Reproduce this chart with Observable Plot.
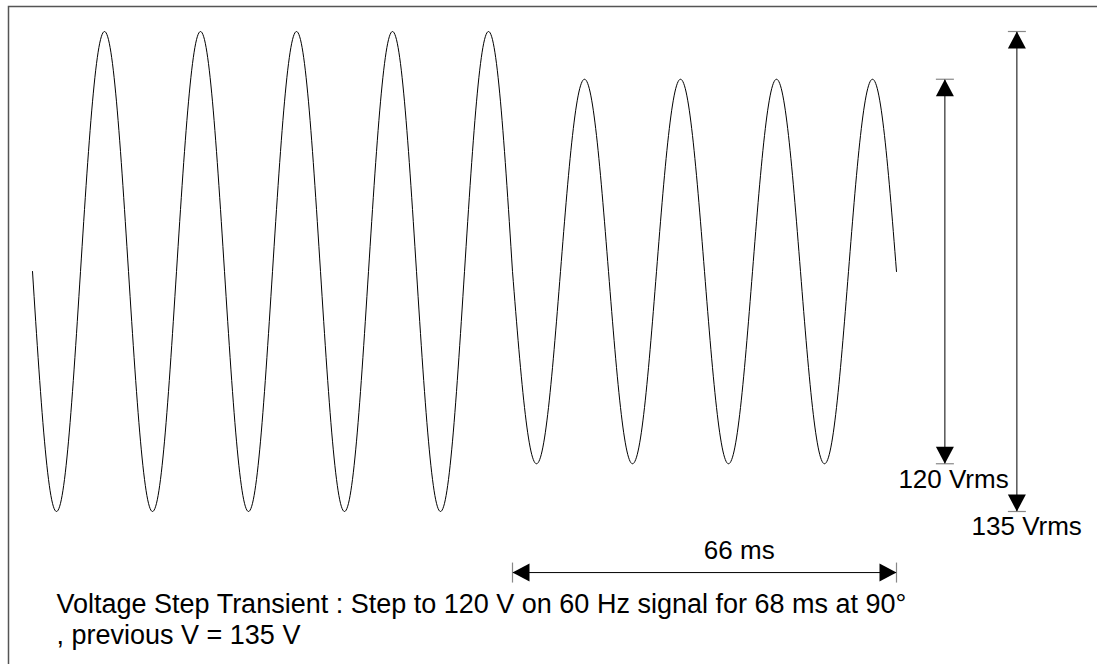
<!DOCTYPE html>
<html><head><meta charset="utf-8">
<script src="https://cdn.jsdelivr.net/npm/d3@7"></script>
<script src="https://cdn.jsdelivr.net/npm/@observablehq/plot@0.6"></script>
<style>html,body{margin:0;padding:0;overflow:hidden;background:#fff}</style>
</head><body><div id="chart"></div>
<script>
// ---- data ----
const signalFrequencyHz = 60;
// extreme voltage (V) of each successive half-cycle of the trace
const halfCycleExtremes = [-191, 191, -191, 191, -191, 191, -191, 191, -191, 191,
                           -153, 153, -153, 153, -153, 153, -153, 153];
const amplitudeLabels = ["120 Vrms", "135 Vrms"];
const amplitudeArrowTimes = [158.4, 170.9];   // ms
const amplitudePeaks = [153, 191];            // V
const amplitudeLabelTimes = [159.9, 172.6];   // ms
const amplitudeLabelVolts = [-172, -210];     // V (baseline)
const durationLabel = "66 ms";
const durationArrowVolt = -239.6;
const durationLabelTime = 122.7;
const durationLabelVolt = -229;
const captionLines = ["Voltage Step Transient : Step to 120 V on 60 Hz signal for 68 ms at 90°", ", previous V = 135 V"];

// ---- derived tables ----
const halfPeriod = 1000 / signalFrequencyHz / 2;
const stepTime = 10 * halfPeriod;
const endTime = halfCycleExtremes.length * halfPeriod;
const wave = [];
halfCycleExtremes.forEach((e, i) => {
  const n = 60;
  for (let k = (i === 0 ? 0 : 1); k <= n; k++) {
    wave.push({t: (i + k / n) * halfPeriod, v: e * Math.sin(Math.PI * k / n)});
  }
});

const arrows = [
  ...amplitudeLabels.map((_, i) => ({x1: amplitudeArrowTimes[i], x2: amplitudeArrowTimes[i], y1: amplitudePeaks[i], y2: -amplitudePeaks[i]})),
  {x1: stepTime, x2: endTime, y1: durationArrowVolt, y2: durationArrowVolt}
];
const ends = arrows.flatMap(a => {
  const vertical = a.x1 === a.x2;
  return [
    {x: a.x1, y: a.y1, vertical, rot: vertical ? (a.y1 > a.y2 ? 0 : 180) : (a.x1 < a.x2 ? -90 : 90)},
    {x: a.x2, y: a.y2, vertical, rot: vertical ? (a.y2 > a.y1 ? 0 : 180) : (a.x2 < a.x1 ? -90 : 90)}
  ];
});
const labels = [
  ...amplitudeLabels.map((s, i) => ({x: amplitudeLabelTimes[i], y: amplitudeLabelVolts[i], text: s})),
  {x: durationLabelTime, y: durationLabelVolt, text: durationLabel}
];

// custom symbols
const head = {draw(ctx) { ctx.moveTo(0, 0); ctx.lineTo(9, 17); ctx.lineTo(-9, 17); ctx.closePath(); }};
const tick = (len) => ({draw(ctx) { ctx.moveTo(-len / 2, 0); ctx.lineTo(len / 2, 0); }});

const font = "'Liberation Sans', Arial, Helvetica, sans-serif";
const chart = Plot.plot({
  width: 1097,
  height: 664,
  marginLeft: 8, marginTop: 6, marginRight: -3, marginBottom: -3,
  style: {fontFamily: font, fontSize: "26px", background: "white", color: "black"},
  x: {domain: [0, endTime], range: [32, 896], axis: null},
  y: {domain: [-191, 191], range: [511, 31], axis: null},
  marks: [
    Plot.frame({stroke: "#555", strokeWidth: 1.5}),
    Plot.line(wave, {x: "t", y: "v", stroke: "black", strokeWidth: 1}),
    Plot.link(arrows, {x1: "x1", y1: "y1", x2: "x2", y2: "y2", stroke: "black", strokeWidth: 1}),
    Plot.dot(ends.filter(d => d.vertical), {x: "x", y: "y", symbol: tick(18), stroke: "#888", fill: "none", strokeWidth: 1.2}),
    Plot.dot(ends.filter(d => !d.vertical), {x: "x", y: "y", symbol: tick(20), rotate: 90, stroke: "#888", fill: "none", strokeWidth: 1.2}),
    Plot.dot(ends, {x: "x", y: "y", rotate: "rot", symbol: head, fill: "black", stroke: "none"}),
    Plot.text(labels, {x: "x", y: "y", text: "text", textAnchor: "middle", lineAnchor: "bottom", fontSize: 26, fill: "black"}),
    Plot.text([captionLines.join("\n")], {text: d => d, frameAnchor: "bottom-left", dx: 48, dy: -24, textAnchor: "start", lineAnchor: "bottom", lineHeight: 31 / 27, fontSize: 27, fill: "black"})
  ]
});
document.getElementById("chart").appendChild(chart);
</script>
</body></html>
